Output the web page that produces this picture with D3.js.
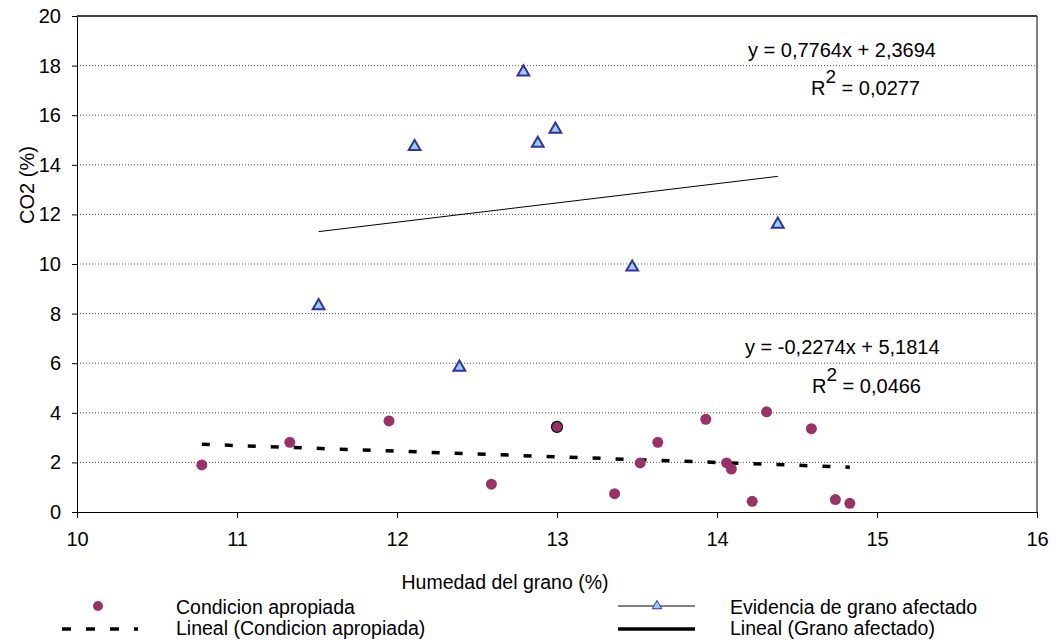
<!DOCTYPE html>
<html>
<head>
<meta charset="utf-8">
<script src="https://cdn.jsdelivr.net/npm/d3@7"></script>
<style>
  body { margin: 0; background: #fff; }
  text { font-family: "Liberation Sans", Arial, sans-serif; fill: #000; }
  .axis text { font-size: 20px; }
  .axis path, .axis line { stroke: #000; }
</style>
</head>
<body>
<div id="chart"></div>
<script>
// Condicion apropiada (circulos)
const apropiadaX = [10.78, 11.33, 11.95, 12.59, 13.00, 13.36, 13.52, 13.63, 13.93, 14.06, 14.09, 14.22, 14.31, 14.59, 14.74, 14.83];
const apropiadaY = [1.90, 2.81, 3.67, 1.12, 3.43, 0.74, 1.98, 2.81, 3.74, 1.98, 1.73, 0.43, 4.04, 3.36, 0.50, 0.35];
// Evidencia de grano afectado (triangulos)
const afectadoX = [11.51, 12.11, 12.39, 12.79, 12.88, 12.99, 13.47, 14.38];
const afectadoY = [8.31, 14.73, 5.83, 17.74, 14.86, 15.43, 9.87, 11.60];
// lineas de tendencia [pendiente, intercepto]
const trendApropiada = [-0.2274, 5.1814];
const trendAfectado = [0.7764, 2.3694];
const xTicks = [10, 11, 12, 13, 14, 15, 16];
const yTicks = [0, 2, 4, 6, 8, 10, 12, 14, 16, 18, 20];

const width = 1058, height = 642;
const svg = d3.select("#chart").append("svg")
    .attr("width", width)
    .attr("height", height);

const x = d3.scaleLinear().domain([10, 16]).range([77, 1037]);
const y = d3.scaleLinear().domain([0, 20]).range([512, 16]);

// grilla punteada
svg.append("g")
    .selectAll("line")
    .data(yTicks.filter(d => d > 0 && d < 20))
    .join("line")
    .attr("x1", x(10)).attr("x2", x(16))
    .attr("y1", d => y(d)).attr("y2", d => y(d))
    .attr("stroke", "#555")
    .attr("stroke-width", 1)
    .attr("stroke-dasharray", "1,2");

// marco superior y derecho
svg.append("line")
    .attr("x1", x(10)).attr("x2", x(16))
    .attr("y1", y(20)).attr("y2", y(20))
    .attr("stroke", "#404040").attr("stroke-width", 2);
svg.append("line")
    .attr("x1", x(16)).attr("x2", x(16))
    .attr("y1", y(20)).attr("y2", y(0))
    .attr("stroke", "#000").attr("stroke-width", 1);

svg.append("g")
    .attr("class", "axis")
    .attr("transform", `translate(0,${y(0)})`)
    .call(d3.axisBottom(x).tickValues(xTicks).tickFormat(d3.format("d")).tickSize(6).tickSizeOuter(0).tickPadding(14));

svg.append("g")
    .attr("class", "axis")
    .attr("transform", `translate(${x(10)},0)`)
    .call(d3.axisLeft(y).tickValues(yTicks).tickFormat(d3.format("d")).tickSize(5).tickSizeOuter(0).tickPadding(11));

// titulos de ejes
svg.append("text")
    .attr("x", 505).attr("y", 589)
    .attr("text-anchor", "middle")
    .style("font-size", "19.5px")
    .text("Humedad del grano (%)");

svg.append("text")
    .attr("transform", "translate(34,185) rotate(-90)")
    .attr("text-anchor", "middle")
    .style("font-size", "20px")
    .text("CO2 (%)");

// lineas de tendencia
function trendPoints(xs, t) {
    const lo = d3.min(xs), hi = d3.max(xs);
    return [[lo, t[0] * lo + t[1]], [hi, t[0] * hi + t[1]]];
}
const line = d3.line().x(d => x(d[0])).y(d => y(d[1]));

svg.append("path")
    .attr("d", line(trendPoints(afectadoX, trendAfectado)))
    .attr("fill", "none")
    .attr("stroke", "#000")
    .attr("stroke-width", 1);

svg.append("path")
    .attr("d", line(trendPoints(apropiadaX, trendApropiada)))
    .attr("fill", "none")
    .attr("stroke", "#000")
    .attr("stroke-width", 3.5)
    .attr("stroke-dasharray", "8,15");

// puntos
const tri = d3.symbol().type(d3.symbolTriangle).size(60);

svg.append("g")
    .selectAll("circle")
    .data(apropiadaX.map((d, i) => ({ x: d, y: apropiadaY[i] })))
    .join("circle")
    .attr("cx", d => x(d.x))
    .attr("cy", d => y(d.y))
    .attr("r", 5.5)
    .attr("fill", "#993366")
    .attr("stroke", (d, i) => i === 4 ? "#000" : "none")
    .attr("stroke-width", 1.2);

svg.append("g")
    .selectAll("path")
    .data(afectadoX.map((d, i) => ({ x: d, y: afectadoY[i] })))
    .join("path")
    .attr("d", tri)
    .attr("transform", d => `translate(${x(d.x)},${y(d.y)})`)
    .attr("fill", "#99ccff")
    .attr("stroke", "#333399")
    .attr("stroke-width", 2);

// ecuaciones
function equation(px, py, rx, ry, t, r2) {
    const fmt = v => d3.format(".4f")(Math.abs(v)).replace(".", ",");
    const slope = (t[0] < 0 ? "-" : "") + fmt(t[0]);
    svg.append("text")
        .attr("x", px).attr("y", py)
        .style("font-size", "20px")
        .text(`y = ${slope}x + ${fmt(t[1])}`);
    const r = svg.append("text")
        .attr("x", rx).attr("y", ry)
        .style("font-size", "20px");
    r.append("tspan").text("R");
    r.append("tspan").attr("dy", -12).style("font-size", "19px").text("2");
    r.append("tspan").attr("dy", 12).text(" = " + r2);
}
equation(748, 57, 811, 95, trendAfectado, "0,0277");
equation(745, 354, 812, 393, trendApropiada, "0,0466");

// leyenda
const lg = svg.append("g");
lg.append("circle").attr("cx", 98).attr("cy", 606).attr("r", 5).attr("fill", "#993366");
lg.append("line").attr("x1", 62).attr("x2", 138).attr("y1", 629).attr("y2", 629)
    .attr("stroke", "#000").attr("stroke-width", 3.5).attr("stroke-dasharray", "9,15");
lg.append("text").attr("x", 176).attr("y", 614).style("font-size", "19.5px").text("Condicion apropiada");
lg.append("text").attr("x", 176).attr("y", 635).style("font-size", "19.5px").text("Lineal (Condicion apropiada)");

lg.append("line").attr("x1", 618).attr("x2", 695).attr("y1", 606).attr("y2", 606)
    .attr("stroke", "#000").attr("stroke-width", 1);
lg.append("path").attr("d", d3.symbol().type(d3.symbolTriangle).size(40))
    .attr("transform", "translate(657,606)")
    .attr("fill", "#99ccff").attr("stroke", "#333399").attr("stroke-width", 1);
lg.append("line").attr("x1", 618).attr("x2", 695).attr("y1", 629).attr("y2", 629)
    .attr("stroke", "#000").attr("stroke-width", 3.5);
lg.append("text").attr("x", 730).attr("y", 614).style("font-size", "19.5px").text("Evidencia de grano afectado");
lg.append("text").attr("x", 730).attr("y", 635).style("font-size", "19.5px").text("Lineal (Grano afectado)");
</script>
</body>
</html>
